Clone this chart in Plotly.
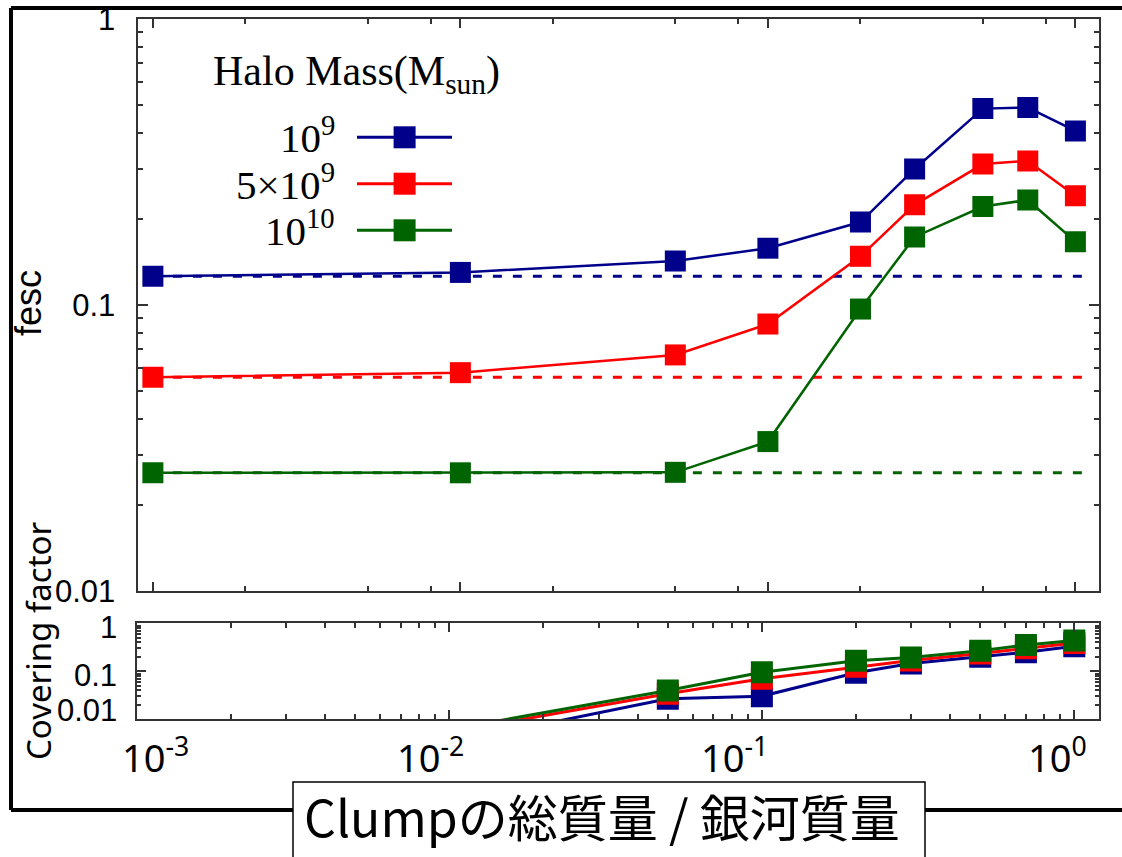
import math
import plotly.graph_objects as go

W, H = 1122, 857

# ---- data -------------------------------------------------------------
clump_ratio = [0.001, 0.01, 0.05, 0.1, 0.2, 0.3, 0.5, 0.7, 1.0]
fesc_1e9 = [0.126, 0.130, 0.1425, 0.158, 0.195, 0.299, 0.486, 0.490, 0.406]
fesc_5e9 = [0.0559, 0.058, 0.0669, 0.0858, 0.148, 0.224, 0.311, 0.319, 0.241]
fesc_1e10 = [0.0259, 0.0259, 0.0260, 0.0333, 0.0968, 0.173, 0.221, 0.233, 0.1665]

cover_ratio = [0.01, 0.05, 0.1, 0.2, 0.3, 0.5, 0.7, 1.0]
cover_1e9 = [0.0032, 0.0267, 0.0303, 0.0929, 0.145, 0.200, 0.250, 0.332]
cover_5e9 = [0.0054, 0.034, 0.0698, 0.124, 0.168, 0.235, 0.303, 0.389]
cover_1e10 = [0.0061, 0.0398, 0.0958, 0.166, 0.195, 0.269, 0.353, 0.440]

# reference (no-clump) level runs to this ratio
baseline_end = 1.1

halo_labels = ["10<sup>9</sup>", "5×10<sup>9</sup>", "10<sup>10</sup>"]
colors = ["#00008B", "#FF0000", "#006400"]

x_major = [0.001, 0.01, 0.1, 1.0]
x_tick_text = ["10<sup>-3</sup>", "10<sup>-2</sup>", "10<sup>-1</sup>", "10<sup>0</sup>"]
y_major = [0.01, 0.1, 1.0]
y_tick_text = ["0.01", "0.1", "1"]

fesc_series = [fesc_1e9, fesc_5e9, fesc_1e10]
cover_series = [cover_1e9, cover_5e9, cover_1e10]

Y_MIN = 0.01  # lower limit of both log y-axes


def px(x):
    return x / W


def py(y):
    return 1 - y / H


decades = [0.001, 0.01, 0.1]
x_minor_sparse = [d * m for d in decades for m in (2, 5, 8)]
x_minor_full = [d * m for d in decades for m in range(2, 10)]
y_minor_full = [d * m for d in (0.01, 0.1) for m in range(2, 10)]

fig = go.Figure()

# dashed reference levels
for vals, c in zip(fesc_series, colors):
    fig.add_trace(go.Scatter(
        x=[clump_ratio[0], baseline_end], y=[vals[0], vals[0]],
        mode="lines", line=dict(color=c, width=3, dash="9px,11px"),
        xaxis="x", yaxis="y", showlegend=False, hoverinfo="skip"))

# escape fraction curves
for vals, c in zip(fesc_series, colors):
    fig.add_trace(go.Scatter(
        x=clump_ratio, y=vals, mode="lines+markers",
        line=dict(color=c, width=2.5),
        marker=dict(symbol="square", size=21, color=c, line=dict(width=0)),
        xaxis="x", yaxis="y", showlegend=False))

# covering factor curves: the line runs through every point, squares only
# where the value lies inside the axis range
for vals, c in zip(cover_series, colors):
    fig.add_trace(go.Scatter(
        x=cover_ratio, y=vals, mode="lines",
        line=dict(color=c, width=3),
        xaxis="x2", yaxis="y2", showlegend=False))
    shown = [(xv, v) for xv, v in zip(cover_ratio, vals) if v >= Y_MIN]
    fig.add_trace(go.Scatter(
        x=[s[0] for s in shown], y=[s[1] for s in shown], mode="markers",
        marker=dict(symbol="square", size=22, color=c, line=dict(width=0)),
        xaxis="x2", yaxis="y2", showlegend=False))

axis_col = "#333333"
common = dict(type="log", showgrid=False, zeroline=False, showline=True,
              linecolor=axis_col, linewidth=2, mirror="allticks", automargin=False,
              ticks="inside", tickcolor=axis_col, tickwidth=1.5)

fig.update_layout(
    template="none",
    width=W, height=H, margin=dict(l=0, r=0, t=0, b=0, pad=0, autoexpand=False),
    paper_bgcolor="white", plot_bgcolor="white", showlegend=False,
    xaxis=dict(common, domain=[px(137.5), px(1099.4)], anchor="y",
               range=[-3.05, 0.078], tickmode="array", tickvals=x_major,
               showticklabels=False, ticklen=9,
               minor=dict(tickmode="array", tickvals=x_minor_sparse, ticks="inside",
                          ticklen=5, tickcolor=axis_col, tickwidth=1.5, showgrid=False)),
    yaxis=dict(common, domain=[py(591), py(19)], anchor="x",
               range=[-2, 0], tickmode="array", tickvals=y_major, ticktext=y_tick_text,
               ticklen=10, ticklabelstandoff=14,
               tickfont=dict(family="Liberation Sans", size=31, color="black"),
               minor=dict(tickmode="array", tickvals=y_minor_full, ticks="inside",
                          ticklen=5, tickcolor=axis_col, tickwidth=1.5, showgrid=False)),
    xaxis2=dict(common, domain=[px(137), px(1099)], anchor="y2",
                range=[-3.0, 0.079], tickmode="array", tickvals=x_major,
                showticklabels=False, ticklen=9,
                minor=dict(tickmode="array", tickvals=x_minor_full, ticks="inside",
                           ticklen=5, tickcolor=axis_col, tickwidth=1.5, showgrid=False)),
    yaxis2=dict(common, domain=[py(719.3), py(623.3)], anchor="x2",
                range=[-2, 0], tickmode="array", tickvals=y_major,
                showticklabels=False, ticklen=9,
                minor=dict(tickmode="array", tickvals=y_minor_full, ticks="inside",
                           ticklen=4, tickcolor=axis_col, tickwidth=1.5, showgrid=False)),
)


def label(text, x, y, size, family, xanchor="center", yanchor="middle", **kw):
    d = dict(text=text, x=x, y=y, xref="paper", yref="paper",
             xanchor=xanchor, yanchor=yanchor, showarrow=False,
             font=dict(family=family, size=size, color="black"))
    d.update(kw)
    return d


annotations = []
# axis titles
annotations.append(label("fesc", px(29), py(303), 36, "Liberation Sans", textangle=-90))
annotations.append(label("Covering factor", px(38), py(641), 33, "Noto Sans", textangle=-90))
annotations.append(label("Clumpの総質量 / 銀河質量", px(602), py(815), 50, "Noto Sans CJK JP"))

# covering-factor y labels
for txt, ypix in zip(y_tick_text, [710, 675, 627]):
    annotations.append(label(txt, px(119), py(ypix), 31, "Liberation Sans", xanchor="right"))

# x tick labels under the lower panel
for val, txt, shift in zip(x_major, x_tick_text, [18, -19, -27, -17]):
    annotations.append(dict(text=txt, x=math.log10(val), xref="x2", xshift=shift,
                            y=py(755), yref="paper", xanchor="center", yanchor="middle",
                            showarrow=False,
                            font=dict(family="Noto Sans", size=38, color="black")))

# legend
annotations.append(label("Halo Mass(M<sub>sun</sub>)", px(211), py(74), 42,
                         "Liberation Serif", xanchor="left"))
leg_y = [137.3, 183.7, 230.3]
for lab, ly in zip(halo_labels, leg_y):
    annotations.append(label(lab, px(337), py(ly - 2), 41, "Liberation Serif", xanchor="right"))

shapes = []
for c, ly in zip(colors, leg_y):
    shapes.append(dict(type="line", xref="paper", yref="paper",
                       x0=px(357), x1=px(452), y0=py(ly), y1=py(ly),
                       line=dict(color=c, width=3)))
    shapes.append(dict(type="rect", xref="paper", yref="paper",
                       x0=px(404.6 - 11), x1=px(404.6 + 11), y0=py(ly - 11), y1=py(ly + 11),
                       fillcolor=c, line=dict(width=0)))

# outer frame
frame = dict(color="black", width=4)
shapes += [
    dict(type="line", xref="paper", yref="paper", x0=px(11), x1=px(1122), y0=py(8), y1=py(8), line=frame),
    dict(type="line", xref="paper", yref="paper", x0=px(11), x1=px(11), y0=py(8), y1=py(810), line=frame),
    dict(type="line", xref="paper", yref="paper", x0=px(11), x1=px(293), y0=py(810), y1=py(810), line=frame),
    dict(type="line", xref="paper", yref="paper", x0=px(925), x1=px(1122), y0=py(810), y1=py(810), line=frame),
]
# box around the x title
shapes.append(dict(type="rect", xref="paper", yref="paper",
                   x0=px(293), x1=px(925), y0=py(782), y1=py(875),
                   fillcolor="white", line=dict(color="black", width=1.5)))

fig.update_layout(annotations=annotations, shapes=shapes)

fig.write_html("out.html")
